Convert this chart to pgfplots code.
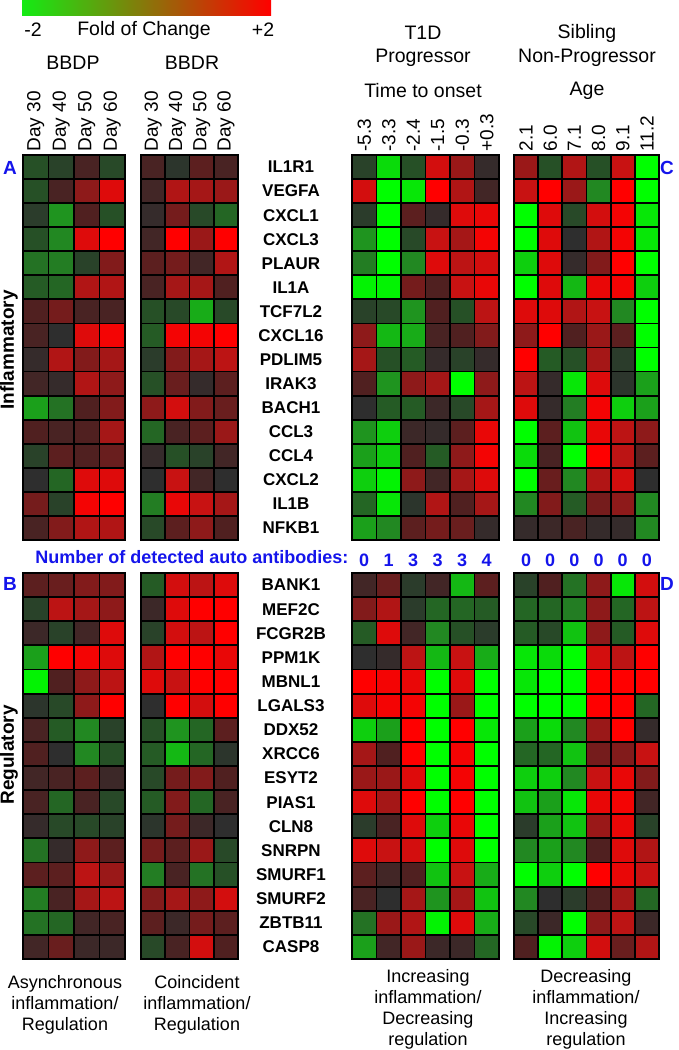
\documentclass[border=0pt]{standalone}
\usepackage{pgfplots}
\pgfplotsset{compat=1.18}
\usepackage{fontspec}
\setmainfont{Liberation Sans}
\definecolor{abblue}{RGB}{20,20,235}
\definecolor{cbgreen}{RGB}{20,235,20}
\definecolor{cbdark}{RGB}{55,55,55}
\definecolor{cbred}{RGB}{255,0,0}
\newcommand\fs[1]{\fontsize{#1}{#1}\selectfont}
\pgfdeclareplotmark{cell}{\pgfpathrectangle{\pgfqpoint{-0.5pt}{-0.5pt}}{\pgfqpoint{1pt}{1pt}}\pgfusepathqfillstroke}
\pgfplotsset{
 hm/.style={scale only axis, anchor=north west, enlargelimits=false, axis on top, clip=false,
   xmin=-0.5, ymin=-0.5, ymax=15.5, y dir=reverse,
   colormap={rg}{rgb255(0cm)=(0,255,0); rgb255(2cm)=(34,136,34); rgb255(3cm)=(38,80,38); rgb255(4cm)=(46,46,46); rgb255(5cm)=(80,32,32); rgb255(6cm)=(142,26,26); rgb255(7cm)=(200,18,18); rgb255(8cm)=(255,0,0)},
   point meta min=-2, point meta max=2,
   xtick=\empty, ytick=\empty, major tick length=0pt, minor tick length=0pt,
   axis line style={black, line width=1.8pt}},
 hm4/.style={hm, xmax=3.5},
 hm6/.style={hm, xmax=5.5},
 toplab/.style={xticklabel pos=top, xticklabel style={rotate=90, anchor=west, font=\fs{19}}},
 genes/.style={ytick={0,...,15}, yticklabel style={anchor=center, xshift=-61pt, font=\fs{17}\bfseries}},
}
% #1 columns, #2 cell width, #3 cell height, #4 data
\newcommand\hm[4]{\addplot[scatter, only marks, mark=cell, point meta=explicit,
  scatter/use mapped color={draw=black, fill=mapped color},
  mark options={xscale=#2, yscale=#3, line width=1.8pt}]
  table[row sep=\\, header=false, x expr={mod(\coordindex,#1)}, y expr={floor((\coordindex+0.5)/#1)}, meta index=0] {#4};}
\begin{document}
\begin{tikzpicture}[x=1pt,y=1pt]
\useasboundingbox (0,0) rectangle (679,-1050);
% colour bar
\shade[left color=cbgreen, middle color=cbdark, right color=cbred] (22,0) rectangle (271,-15);
\node[font=\fs{19.5}] at (33,-30) {-2};
\node[font=\fs{19.5}] at (144,-30) {Fold of Change};
\node[font=\fs{19.5}] at (263,-30) {+2};
\node[font=\fs{19.5}] at (73,-63) {BBDP};
\node[font=\fs{19.5}] at (192,-63) {BBDR};
\node[font=\fs{19.5}] at (423,-33) {T1D};
\node[font=\fs{19.5}] at (423,-58) {Progressor};
\node[font=\fs{19.5}] at (423,-91) {Time to onset};
\node[font=\fs{19.5}] at (587,-33) {Sibling};
\node[font=\fs{19.5}] at (587,-58) {Non-Progressor};
\node[font=\fs{19.5}] at (587,-91) {Age};
\node[font=\fs{19}\bfseries, text=abblue] at (10,-168) {A};
\node[font=\fs{19}\bfseries, text=abblue] at (10,-584) {B};
\node[font=\fs{19}\bfseries, text=abblue] at (667,-168) {C};
\node[font=\fs{19}\bfseries, text=abblue] at (667,-584) {D};
\node[font=\fs{19}\bfseries, rotate=90] at (9,-350) {Inflammatory};
\node[font=\fs{19}\bfseries, rotate=90] at (9,-755) {Regulatory};
\node[font=\fs{18}\bfseries, text=abblue, anchor=base east] at (352,-563) {Number of detected auto antibodies:};
% ---------------- top half ----------------
\begin{axis}[hm4, toplab, at={(23pt,-155pt)}, width=102pt, height=385pt,
  xtick={0,1,2,3}, xticklabels={Day 30,Day 40,Day 50,Day 60}]
\hm{4}{25.5}{24.06}{-0.5\\-0.3\\0.4\\-0.4\\
-0.5\\0.4\\1.0\\1.7\\
-0.2\\-1.1\\0.5\\-0.5\\
-0.5\\-1.0\\1.7\\2.0\\
-0.8\\-0.9\\-0.3\\0.9\\
-0.6\\-0.7\\1.3\\1.3\\
0.5\\0.8\\0.4\\0.4\\
0.4\\0.0\\1.7\\1.9\\
0.1\\1.3\\0.9\\1.2\\
0.3\\0.1\\1.3\\1.0\\
-1.2\\-0.8\\0.5\\0.9\\
0.5\\0.4\\0.5\\1.2\\
-0.3\\0.6\\0.5\\0.7\\
0.0\\-0.7\\1.7\\1.7\\
0.8\\-0.3\\1.9\\2.0\\
0.4\\0.9\\1.3\\1.3\\}
\end{axis}
\begin{axis}[hm4, toplab, at={(141pt,-155pt)}, width=97pt, height=385pt,
  xtick={0,1,2,3}, xticklabels={Day 30,Day 40,Day 50,Day 60}]
\hm{4}{24.25}{24.06}{0.4\\-0.1\\0.6\\0.4\\
0.3\\1.3\\1.2\\1.1\\
0.1\\0.8\\-0.4\\-0.7\\
0.3\\2.0\\1.1\\2.0\\
0.6\\0.8\\0.3\\1.3\\
0.4\\1.2\\1.2\\0.5\\
-0.5\\-0.4\\-1.3\\-0.4\\
-0.6\\1.9\\1.9\\2.0\\
-0.2\\0.9\\1.2\\1.4\\
-0.5\\0.7\\0.1\\0.6\\
1.0\\1.6\\0.9\\0.7\\
-0.7\\0.4\\0.6\\1.1\\
0.1\\-0.5\\-0.3\\0.3\\
0.0\\1.5\\0.3\\0.0\\
-0.9\\1.8\\1.5\\1.2\\
-0.4\\0.6\\1.0\\0.5\\}
\end{axis}
\begin{axis}[hm6, toplab, genes, at={(352pt,-155pt)}, width=147pt, height=385pt,
  xtick={0,...,5}, xticklabels={-5.3,-3.3,-2.4,-1.5,-0.3,+0.3},
  yticklabels={IL1R1,VEGFA,CXCL1,CXCL3,PLAUR,IL1A,TCF7L2,CXCL16,PDLIM5,IRAK3,BACH1,CCL3,CCL4,CXCL2,IL1B,NFKB1}]
\hm{6}{24.5}{24.06}{-0.3\\-1.7\\-0.5\\1.6\\1.1\\0.1\\
1.6\\-2.0\\-1.8\\2.0\\1.3\\0.3\\
-0.2\\-2.0\\0.6\\0.1\\1.7\\1.8\\
-1.1\\-2.0\\-0.4\\1.5\\1.2\\1.9\\
-0.9\\-2.0\\-1.0\\1.7\\1.4\\1.6\\
-1.9\\-1.9\\0.8\\0.5\\1.5\\1.8\\
-0.3\\-0.4\\-1.1\\0.5\\-0.5\\1.4\\
1.0\\-1.4\\-1.3\\0.4\\0.5\\0.9\\
1.2\\-0.5\\-0.6\\0.1\\-0.3\\0.1\\
0.5\\-1.1\\1.0\\1.2\\-2.0\\1.0\\
0.0\\-0.6\\-0.6\\0.2\\-0.4\\1.2\\
-1.1\\-1.6\\0.2\\0.1\\0.6\\1.8\\
-1.2\\-1.6\\0.5\\-0.6\\1.0\\1.9\\
-1.6\\-1.9\\1.0\\0.3\\1.2\\1.7\\
-0.7\\-1.8\\-0.1\\1.3\\0.5\\1.2\\
-1.2\\-1.0\\0.6\\0.8\\0.7\\0.1\\}
\end{axis}
\begin{axis}[hm6, toplab, at={(514pt,-155pt)}, width=145pt, height=385pt,
  xtick={0,...,5}, xticklabels={2.1,6.0,7.1,8.0,9.1,11.2}]
\hm{6}{24.17}{24.06}{1.1\\-0.5\\1.3\\-0.5\\1.5\\-2.0\\
1.5\\2.0\\1.1\\-1.0\\2.0\\-2.0\\
-2.0\\1.7\\-0.4\\1.6\\1.9\\-1.8\\
-2.0\\1.7\\0.0\\1.3\\1.9\\-1.8\\
-1.6\\1.7\\0.1\\0.9\\2.0\\-2.0\\
-2.0\\1.7\\-1.4\\1.8\\1.9\\-1.6\\
1.7\\1.7\\1.3\\1.5\\-1.0\\-2.0\\
1.0\\2.0\\0.5\\1.1\\0.6\\-2.0\\
2.0\\-0.6\\-0.5\\1.2\\-0.2\\-2.0\\
1.4\\0.1\\-1.8\\1.7\\-0.1\\-1.2\\
1.7\\0.1\\-0.9\\1.9\\-1.6\\-1.2\\
-2.0\\0.6\\-1.5\\1.8\\1.4\\1.0\\
-1.7\\0.4\\-2.0\\2.0\\1.4\\0.6\\
-2.0\\0.7\\-1.0\\1.3\\1.6\\0.0\\
-1.0\\0.9\\-0.6\\0.8\\1.0\\-1.0\\
0.1\\0.2\\0.4\\0.1\\0.1\\-1.0\\}
\end{axis}
% ---------------- bottom half ----------------
\begin{axis}[hm4, at={(23pt,-573pt)}, width=102pt, height=386pt]
\hm{4}{25.5}{24.125}{0.6\\0.7\\0.9\\0.9\\
-0.3\\1.4\\1.2\\1.0\\
0.2\\-0.3\\0.3\\1.7\\
-1.2\\2.0\\1.9\\1.7\\
-1.9\\0.5\\1.0\\1.4\\
-0.1\\-0.4\\1.0\\2.0\\
0.4\\-0.6\\-1.0\\-0.3\\
0.5\\0.0\\-1.0\\-0.5\\
0.3\\0.4\\0.6\\0.2\\
0.4\\-0.7\\0.4\\-0.4\\
0.1\\-0.4\\-0.4\\-0.3\\
-0.8\\0.1\\1.0\\0.6\\
0.6\\0.6\\1.4\\1.1\\
-0.9\\0.4\\1.2\\1.4\\
-0.8\\-0.7\\0.3\\0.4\\
0.3\\0.7\\0.2\\0.2\\}
\end{axis}
\begin{axis}[hm4, at={(141pt,-573pt)}, width=97pt, height=386pt]
\hm{4}{24.25}{24.125}{-0.6\\1.6\\1.4\\1.7\\
0.2\\1.7\\2.0\\2.0\\
-0.3\\1.6\\1.4\\2.0\\
1.3\\2.0\\2.0\\1.8\\
1.7\\1.5\\2.0\\2.0\\
0.0\\2.0\\1.6\\2.0\\
-0.5\\-1.1\\-0.7\\0.6\\
-0.6\\-1.4\\-0.7\\-0.1\\
-0.4\\0.8\\0.9\\0.5\\
-0.6\\0.9\\-0.7\\0.4\\
-0.1\\0.8\\0.2\\0.0\\
0.8\\0.6\\1.1\\-0.4\\
-0.9\\0.4\\-0.8\\-0.5\\
0.9\\1.2\\1.0\\1.6\\
0.6\\0.2\\0.8\\0.6\\
-0.4\\0.4\\1.6\\0.5\\}
\end{axis}
\begin{axis}[hm6, genes, at={(352pt,-573pt)}, width=147pt, height=386pt,
  xtick={0,...,5}, xticklabels={0,1,3,3,3,4}, xticklabel pos=top,
  xticklabel style={anchor=south, yshift=3pt, font=\fs{18}\bfseries, text=abblue},
  yticklabels={BANK1,MEF2C,FCGR2B,PPM1K,MBNL1,LGALS3,DDX52,XRCC6,ESYT2,PIAS1,CLN8,SNRPN,SMURF1,SMURF2,ZBTB11,CASP8}]
\hm{6}{24.5}{24.125}{0.3\\0.7\\-0.2\\0.3\\-1.4\\0.6\\
0.9\\1.3\\-0.2\\-0.7\\-0.7\\-0.6\\
-0.6\\1.7\\0.3\\-1.0\\-0.5\\-0.2\\
0.0\\0.1\\1.4\\-1.4\\1.5\\-1.3\\
2.0\\1.9\\1.8\\-2.0\\1.7\\-2.0\\
1.7\\1.9\\1.9\\-2.0\\1.1\\-2.0\\
-1.6\\-1.2\\2.0\\-2.0\\2.0\\-1.8\\
1.2\\0.5\\2.0\\-2.0\\1.9\\-2.0\\
1.1\\1.1\\1.7\\-2.0\\1.9\\-2.0\\
1.7\\1.2\\2.0\\-2.0\\2.0\\-2.0\\
-0.2\\0.4\\1.7\\-1.6\\1.8\\-2.0\\
1.7\\1.5\\1.6\\-2.0\\1.7\\-2.0\\
0.6\\0.3\\0.5\\-1.5\\1.5\\-1.3\\
0.4\\0.0\\1.2\\-1.1\\1.2\\-1.5\\
-0.8\\1.1\\1.3\\-1.9\\1.7\\-1.3\\
-1.2\\0.3\\1.1\\0.2\\0.2\\-0.7\\}
\end{axis}
\begin{axis}[hm6, at={(514pt,-573pt)}, width=145pt, height=386pt,
  xtick={0,...,5}, xticklabels={0,0,0,0,0,0}, xticklabel pos=top,
  xticklabel style={anchor=south, yshift=3pt, font=\fs{18}\bfseries, text=abblue}]
\hm{6}{24.17}{24.125}{-0.3\\0.5\\-0.8\\1.0\\-1.8\\1.6\\
-0.7\\-0.7\\-0.9\\1.0\\-0.7\\1.4\\
-0.6\\-0.4\\-1.5\\1.0\\-0.6\\1.7\\
-1.8\\-1.7\\-2.0\\1.6\\1.4\\2.0\\
-1.8\\-2.0\\-2.0\\2.0\\2.0\\2.0\\
-2.0\\-2.0\\-2.0\\2.0\\2.0\\-0.7\\
-1.2\\-1.7\\-1.0\\1.1\\2.0\\0.1\\
-0.7\\-0.7\\-1.5\\0.8\\0.9\\1.5\\
-1.6\\-1.6\\-1.0\\1.5\\1.8\\0.9\\
-1.5\\-1.2\\-1.8\\1.8\\1.9\\0.3\\
-0.2\\-1.2\\-1.5\\1.1\\1.8\\-0.3\\
-1.0\\-1.2\\-1.0\\0.5\\1.7\\1.3\\
-2.0\\-1.6\\-2.0\\2.0\\1.8\\1.5\\
-1.0\\0.0\\-0.2\\0.5\\1.2\\-0.7\\
-0.4\\0.2\\-2.0\\1.0\\1.4\\0.2\\
0.5\\-1.9\\-1.6\\1.6\\0.7\\1.3\\}
\end{axis}
% bottom captions
\node[font=\fs{18}, align=center, anchor=north, inner sep=0pt] at (65,-975)
  {Asynchronous\\[3pt]inflammation/\\[3pt]Regulation};
\node[font=\fs{18}, align=center, anchor=north, inner sep=0pt] at (197,-975)
  {Coincident\\[3pt]inflammation/\\[3pt]Regulation};
\node[font=\fs{18}, align=center, anchor=north, inner sep=0pt] at (428,-969)
  {Increasing\\[3pt]inflammation/\\[3pt]Decreasing\\[3pt]regulation};
\node[font=\fs{18}, align=center, anchor=north, inner sep=0pt] at (586,-969)
  {Decreasing\\[3pt]inflammation/\\[3pt]Increasing\\[3pt]regulation};
\end{tikzpicture}
\end{document}
